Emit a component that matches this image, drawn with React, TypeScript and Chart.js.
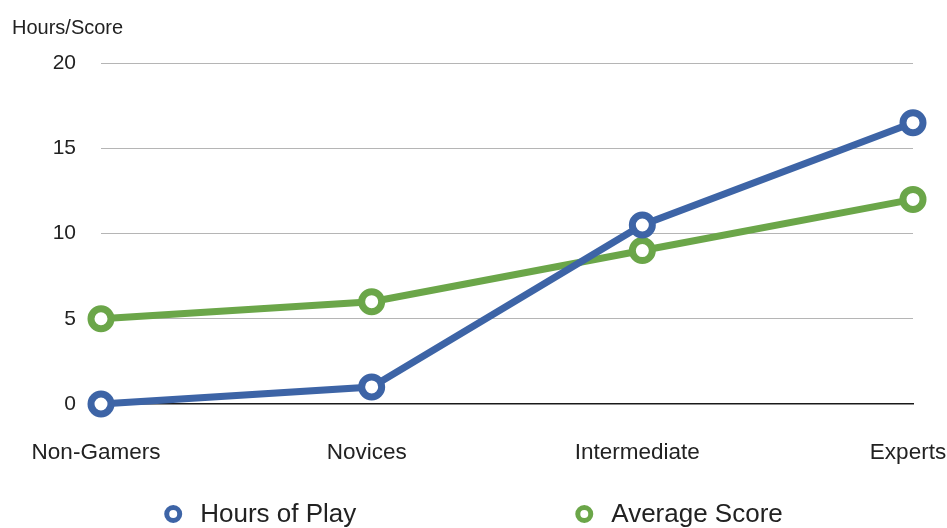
import { useEffect, useRef } from 'react';
import { Chart, registerables } from 'chart.js';

Chart.register(...registerables);

const categories = ['Non-Gamers', 'Novices', 'Intermediate', 'Experts'];
const hoursOfPlay = [0, 1, 10.5, 16.5];
const averageScore = [5, 6, 9, 12];
const yTickValues = [0, 5, 10, 15, 20];
const axisTitle = 'Hours/Score';
const seriesNames = ['Hours of Play', 'Average Score'];
const seriesColors = ['#3d64a6', '#6ba649'];

const FONT = '"Liberation Sans", Arial, Helvetica, sans-serif';

const wideLegend = {
  id: 'wideLegend',
  afterDraw(chart: any) {
    const ctx = chart.ctx as CanvasRenderingContext2D;
    const ds = chart.data.datasets;
    ctx.save();
    ctx.font = `26px ${FONT}`;
    const markerSpace = 36;
    const gap = 219;
    const widths = ds.map((d: any) => markerSpace + ctx.measureText(d.label).width);
    const total = widths.reduce((a: number, b: number) => a + b, 0) + gap * (ds.length - 1);
    let x = (chart.width - total) / 2;
    const y = chart.height - 14;
    ds.forEach((d: any, i: number) => {
      ctx.beginPath();
      ctx.arc(x + 9, y, 6.5, 0, Math.PI * 2);
      ctx.fillStyle = '#fff';
      ctx.fill();
      ctx.lineWidth = 5;
      ctx.strokeStyle = d.borderColor;
      ctx.stroke();
      ctx.fillStyle = '#222';
      ctx.textBaseline = 'middle';
      ctx.textAlign = 'left';
      ctx.fillText(d.label, x + markerSpace, y + 1);
      x += widths[i] + gap;
    });
    ctx.restore();
  },
};

export default function App() {
  const ref = useRef<HTMLCanvasElement>(null);

  useEffect(() => {
    if (!ref.current) return;
    const series = [hoursOfPlay, averageScore];
    const chart = new Chart(ref.current, {
      type: 'line',
      data: {
        labels: categories,
        datasets: series.map((values, i) => ({
          label: seriesNames[i],
          data: values,
          borderColor: seriesColors[i],
          borderWidth: 7,
          pointRadius: 10,
          pointHoverRadius: 10,
          pointBorderWidth: 7,
          pointBackgroundColor: '#ffffff',
          pointBorderColor: seriesColors[i],
          tension: 0,
          clip: false as any,
          order: i === 0 ? 0 : 1,
        })),
      },
      options: {
        animation: false,
        responsive: true,
        maintainAspectRatio: false,
        layout: { padding: { left: 12, right: 34, top: 0, bottom: 0 } },
        plugins: {
          legend: { display: false },
          tooltip: { enabled: false },
          title: {
            display: true,
            text: axisTitle,
            align: 'start',
            color: '#222',
            font: { family: FONT, size: 20, weight: 'normal' },
            padding: { top: 16, bottom: 23 },
          },
        },
        scales: {
          x: {
            offset: false,
            grid: { display: false, drawTicks: false },
            border: { display: true, color: '#1a1a1a', width: 1.5 },
            ticks: {
              color: '#222',
              font: { family: FONT, size: 22.5 },
              padding: 35,
              labelOffset: -5,
              maxRotation: 0,
              autoSkip: false,
            },
            afterFit: (s: any) => {
              s.height = 124;
              s.paddingLeft = 0;
              s.paddingRight = 0;
            },
          },
          y: {
            min: 0,
            max: 20,
            grid: {
              drawTicks: false,
              color: (c: any) => (c.tick && c.tick.value === 0 ? 'rgba(0,0,0,0)' : '#b5b5b5'),
              lineWidth: 1,
            },
            border: { display: false },
            ticks: {
              color: '#222',
              font: { family: FONT, size: 21 },
              padding: 25,
            },
            afterBuildTicks: (s: any) => {
              s.ticks = yTickValues.map((v) => ({ value: v }));
            },
            afterFit: (s: any) => {
              s.width = 89;
              s.paddingTop = 0;
              s.paddingBottom = 0;
            },
          },
        },
      },
      plugins: [wideLegend],
    });
    return () => chart.destroy();
  }, []);

  return (
    <div style={{ position: 'fixed', left: 0, top: 0, width: 947, height: 528, background: '#fff' }}>
      <canvas ref={ref} />
    </div>
  );
}
